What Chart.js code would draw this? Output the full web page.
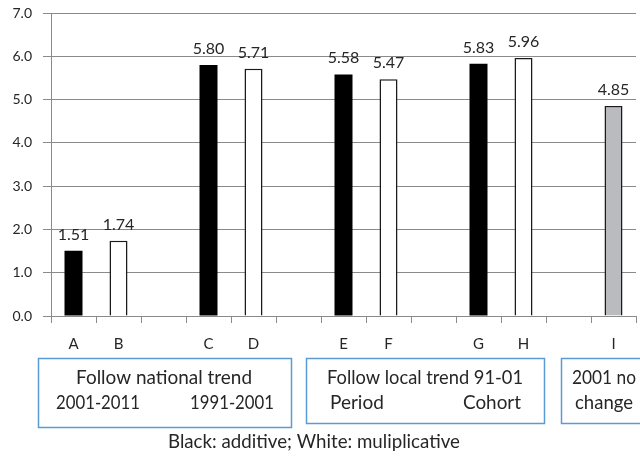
<!DOCTYPE html>
<html><head><meta charset="utf-8">
<script src="https://cdn.jsdelivr.net/npm/chart.js@4.4.0/dist/chart.umd.min.js"></script>
<style>html,body{margin:0;padding:0;background:#fff;}#wrap{width:640px;height:456px;position:relative;}</style>
</head><body><div id="wrap"><canvas id="c" width="640" height="456"></canvas></div>
<script>
const categories = ['A','B','','C','D','','E','F','','G','H','','I'];
const values = [1.51,1.74,null,5.80,5.71,null,5.58,5.47,null,5.83,5.96,null,4.85];
const barKinds = ['additive','multiplicative',null,'additive','multiplicative',null,'additive','multiplicative',null,'additive','multiplicative',null,'nochange'];
const yTicks = [0,1,2,3,4,5,6,7];
const box1Lines = ['Follow national trend','2001-2011','1991-2001'];
const box2Lines = ['Follow local trend 91-01','Period','Cohort'];
const box3Lines = ['2001 no','change'];
const footerText = 'Black: additive; White: muliplicative';

const fillFor = {additive:'#000000', multiplicative:'#ffffff', nochange:'#BABBBE'};
const TEXT = '#262626';
const GRID = '#8a8a8a';

const labelsPlugin = {
  id:'labels',
  afterDatasetsDraw(chart){
    const ctx = chart.ctx;
    const meta = chart.getDatasetMeta(0);
    ctx.save();
    ctx.font = '16px Lato';
    ctx.fillStyle = TEXT;
    ctx.textAlign = 'center';
    ctx.textBaseline = 'alphabetic';
    meta.data.forEach((bar,i)=>{
      if(values[i]==null) return;
      ctx.fillText(values[i].toFixed(2), bar.x, bar.y - 11);
    });
    ctx.restore();
  }
};

const boxesPlugin = {
  id:'boxes',
  afterDraw(chart){
    const ctx = chart.ctx;
    ctx.save();
    ctx.strokeStyle = '#5B9BD5';
    ctx.lineWidth = 1.5;
    ctx.strokeRect(38.5, 358.5, 253, 69);
    ctx.strokeRect(306.5, 358.5, 238, 65);
    ctx.strokeRect(561.5, 358.5, 100, 65);
    ctx.fillStyle = TEXT;
    ctx.font = '19px Lato';
    ctx.textBaseline = 'alphabetic';
    ctx.textAlign = 'center';
    ctx.fillText(box1Lines[0], 164, 384, 176);
    ctx.fillText(box1Lines[1], 98, 409, 84);
    ctx.fillText(box1Lines[2], 232, 409, 84);
    ctx.fillText(box2Lines[0], 425, 384, 196);
    ctx.textAlign = 'left';
    ctx.fillText(box2Lines[1], 330, 409, 54);
    ctx.textAlign = 'right';
    ctx.fillText(box2Lines[2], 521, 409, 58);
    ctx.textAlign = 'left';
    ctx.fillText(box3Lines[0], 572, 384, 64);
    ctx.fillText(box3Lines[1], 575, 409, 58);
    ctx.textAlign = 'center';
    ctx.fillText(footerText, 314, 448, 292);
    ctx.restore();
  }
};

new Chart(document.getElementById('c'), {
  type:'bar',
  data:{
    labels: categories,
    datasets:[{
      data: values,
      backgroundColor: barKinds.map(k=>k?fillFor[k]:'transparent'),
      borderColor: barKinds.map(k=>k==='additive'?'#000000':'#1a1a1a'),
      borderWidth: barKinds.map(k=>k==='additive'?0:1.5),
      barPercentage: 0.4,
      categoryPercentage: 1.0
    }]
  },
  options:{
    responsive:false,
    animation:false,
    layout:{padding:{top:13,right:4,left:0,bottom:0}},
    plugins:{legend:{display:false}, tooltip:{enabled:false}},
    scales:{
      x:{
        grid:{offset:true, drawOnChartArea:false, drawTicks:true, tickLength:7, color:GRID, lineWidth:1},
        border:{display:true, color:GRID, width:1},
        ticks:{padding:12, color:TEXT, font:{family:'Lato', size:15}, autoSkip:false, maxRotation:0, minRotation:0},
        afterFit:(s)=>{ s.height = 140; }
      },
      y:{
        min:0, max:7,
        afterBuildTicks:(s)=>{ s.ticks = yTicks.map(v=>({value:v})); },
        ticks:{padding:11, color:TEXT, font:{family:'Lato', size:14}, callback:(v)=>Number(v).toFixed(1)},
        grid:{color:GRID, lineWidth:1, drawTicks:true, tickLength:8},
        border:{display:true, color:GRID, width:1},
        afterFit:(s)=>{ s.width = 51; s.paddingTop = 0; s.paddingBottom = 0; }
      }
    }
  },
  plugins:[labelsPlugin, boxesPlugin]
});
</script></body></html>
